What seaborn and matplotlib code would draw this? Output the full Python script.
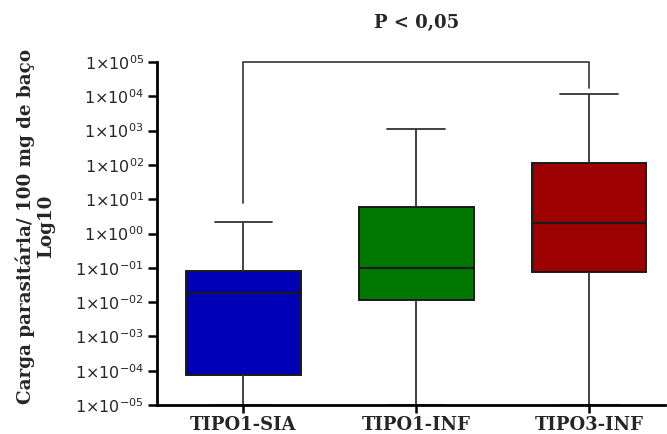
import numpy as np
import pandas as pd
import matplotlib
matplotlib.use("Agg")
import matplotlib.pyplot as plt
import seaborn as sns

categories = ["TIPO1-SIA", "TIPO1-INF", "TIPO3-INF"]
# five-number summaries: min, Q1, median, Q3, max
mins    = [1e-5, 1e-5, 1e-5]
q1s     = [7.4e-5, 1.15e-2, 7.7e-2]
medians = [1.9e-2, 1.0e-1, 2.05e0]
q3s     = [8.3e-2, 5.8e0, 1.12e2]
maxs    = [2.2e0, 1.1e3, 1.2e4]
colors  = ["#0000B6", "#007800", "#9C0000"]
ytick_exps = list(range(-5, 6))
bracket_x = [0, 0, 2, 2]
bracket_y = [7.8e0, 1e5, 1e5, 1.8e4]
title_text = "P < 0,05"
ylabel_text = "Carga parasitária/ 100 mg de baço\nLog10"

rows = []
for c, a, b, m, d, e in zip(categories, mins, q1s, medians, q3s, maxs):
    for v in (a, b, m, d, e):
        rows.append({"grupo": c, "carga": v})
df = pd.DataFrame(rows)

sns.set_style("ticks")
plt.rcParams["mathtext.fontset"] = "dejavusans"

fig = plt.figure(figsize=(6.67, 4.34), dpi=100)
ax = fig.add_axes([157/667, 1-405/434, 508/667, (405-62)/434])

lc = "#1a1a1a"
sns.boxplot(data=df, x="grupo", y="carga", hue="grupo", palette=colors,
            order=categories, hue_order=categories, legend=False,
            whis=(0, 100), width=0.665, log_scale=(False, True), ax=ax,
            saturation=1, linewidth=1.4, linecolor=lc,
            boxprops=dict(edgecolor=lc), whiskerprops=dict(color="#333333", linewidth=1.3),
            capprops=dict(color="#333333", linewidth=1.3), medianprops=dict(color=lc, linewidth=1.6))

ax.set_ylim(1e-5, 1e5)
ax.set_xlim(-0.5, 2.44)
ax.set_yticks([10.0**k for k in ytick_exps])
ax.set_yticks([], minor=True)
ax.set_yticklabels([r"1$\times$10$^{%s}$" % (("%03d" % k) if k < 0 else ("%02d" % k)) for k in ytick_exps],
                   fontsize=11.5, fontfamily="DejaVu Sans")
ax.set_xticks(range(len(categories)))
ax.set_xticklabels(categories, fontsize=13, fontfamily="DejaVu Serif", fontweight="bold")
ax.tick_params(axis="both", which="major", direction="out", length=6.5, width=1.8,
               color="black", pad=3, left=True, bottom=True)
ax.tick_params(axis="y", which="minor", length=0)
ax.tick_params(axis="x", length=6, pad=2)

for s in ["top", "right"]:
    ax.spines[s].set_visible(False)
for s in ["left", "bottom"]:
    ax.spines[s].set_linewidth(2.0)
    ax.spines[s].set_color("black")

ax.set_xlabel("")
ax.set_ylabel(ylabel_text, fontsize=13.2, fontfamily="DejaVu Serif", fontweight="bold",
              linespacing=1.15, labelpad=14)
ax.yaxis.label.set_y(0.52)

ax.plot(bracket_x, bracket_y, color="#333333", linewidth=1.2, clip_on=False)
ax.text(1, 1.0 + 39/343, title_text, transform=ax.get_xaxis_transform(), ha="center", va="center",
        fontsize=13, fontfamily="DejaVu Serif", fontweight="bold")

fig.savefig("out.png", dpi=100)
